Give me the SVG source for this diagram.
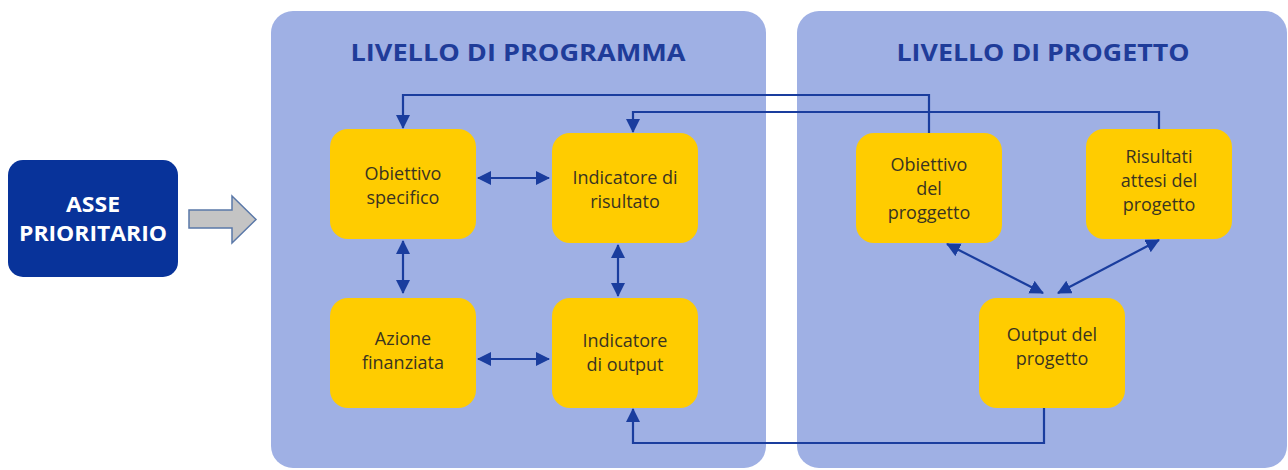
<svg xmlns="http://www.w3.org/2000/svg" width="1288" height="470" viewBox="0 0 1288 470">
<defs>
<marker id="ah" markerWidth="16" markerHeight="16" refX="13" refY="7" orient="auto-start-reverse" markerUnits="userSpaceOnUse">
<path d="M0,0 L14,7 L0,14 Z" fill="#1a3d9e"/>
</marker>
<style>
.panel{fill:#9fb0e4}
.title{font-family:"Open Sans","Liberation Sans",sans-serif;font-weight:bold;font-size:24px;fill:#1f3c99;text-anchor:middle}
.node{fill:#ffcc00}
.nt{font-family:"Open Sans","Liberation Sans",sans-serif;font-size:18px;fill:#3a3420;text-anchor:middle}
.conn{fill:none;stroke:#1a3d9e;stroke-width:2.2}
.asse{font-family:"Open Sans","Liberation Sans",sans-serif;font-weight:bold;font-size:22px;fill:#ffffff;text-anchor:middle}
</style>
</defs>
<rect width="1288" height="470" fill="#ffffff"/>
<g id="panel-programma">
<rect class="panel" x="271" y="11" width="495" height="457" rx="22"/>
<text class="title" x="518" y="61" textLength="335" lengthAdjust="spacingAndGlyphs">LIVELLO DI PROGRAMMA</text>
</g>
<g id="panel-progetto">
<rect class="panel" x="797" y="11" width="490" height="457" rx="22"/>
<text class="title" x="1043" y="61" textLength="293" lengthAdjust="spacingAndGlyphs">LIVELLO DI PROGETTO</text>
</g>
<g id="asse">
<rect x="8" y="160" width="170" height="117" rx="15" fill="#08339a"/>
<text class="asse" x="93" y="212" textLength="54" lengthAdjust="spacingAndGlyphs">ASSE</text>
<text class="asse" x="93" y="241" textLength="148" lengthAdjust="spacingAndGlyphs">PRIORITARIO</text>
</g>
<g id="big-arrow">
<path d="M189,210 L232,210 L232,196 L256,219.5 L232,243 L232,228 L189,228 Z" fill="#c4c4c4" stroke="#5a78a8" stroke-width="1.5"/>
</g>
<g id="connectors">
<line class="conn" x1="478" y1="178" x2="549" y2="178" marker-start="url(#ah)" marker-end="url(#ah)"/>
<line class="conn" x1="478" y1="359" x2="549" y2="359" marker-start="url(#ah)" marker-end="url(#ah)"/>
<line class="conn" x1="403" y1="241" x2="403" y2="293" marker-start="url(#ah)" marker-end="url(#ah)"/>
<line class="conn" x1="618" y1="245" x2="618" y2="296" marker-start="url(#ah)" marker-end="url(#ah)"/>
<polyline class="conn" points="929,133 929,95 403,95 403,128" marker-end="url(#ah)"/>
<polyline class="conn" points="1159,129 1159,112 633,112 633,132" marker-end="url(#ah)"/>
<polyline class="conn" points="1044,408 1044,443 633,443 633,409" marker-end="url(#ah)"/>
<line class="conn" x1="947" y1="244" x2="1043" y2="293" marker-start="url(#ah)" marker-end="url(#ah)"/>
<line class="conn" x1="1159" y1="240" x2="1058" y2="293" marker-start="url(#ah)" marker-end="url(#ah)"/>
</g>
<g id="obiettivo-specifico">
<rect class="node" x="330" y="129" width="146" height="110" rx="18"/>
<text class="nt" x="403" y="180">Obiettivo</text>
<text class="nt" x="403" y="204">specifico</text>
</g>
<g id="indicatore-risultato">
<rect class="node" x="552" y="133" width="146" height="110" rx="18"/>
<text class="nt" x="625" y="184">Indicatore di</text>
<text class="nt" x="625" y="208">risultato</text>
</g>
<g id="azione-finanziata">
<rect class="node" x="330" y="298" width="146" height="110" rx="18"/>
<text class="nt" x="403" y="345">Azione</text>
<text class="nt" x="403" y="369">finanziata</text>
</g>
<g id="indicatore-output">
<rect class="node" x="552" y="298" width="146" height="110" rx="18"/>
<text class="nt" x="625" y="347">Indicatore</text>
<text class="nt" x="625" y="371">di output</text>
</g>
<g id="obiettivo-progetto">
<rect class="node" x="856" y="133" width="146" height="110" rx="18"/>
<text class="nt" x="929" y="171">Obiettivo</text>
<text class="nt" x="929" y="195">del</text>
<text class="nt" x="929" y="219">proggetto</text>
</g>
<g id="risultati-attesi">
<rect class="node" x="1086" y="129" width="146" height="110" rx="18"/>
<text class="nt" x="1159" y="163">Risultati</text>
<text class="nt" x="1159" y="187">attesi del</text>
<text class="nt" x="1159" y="211">progetto</text>
</g>
<g id="output-progetto">
<rect class="node" x="979" y="298" width="146" height="110" rx="18"/>
<text class="nt" x="1052" y="341">Output del</text>
<text class="nt" x="1052" y="365">progetto</text>
</g>
</svg>
